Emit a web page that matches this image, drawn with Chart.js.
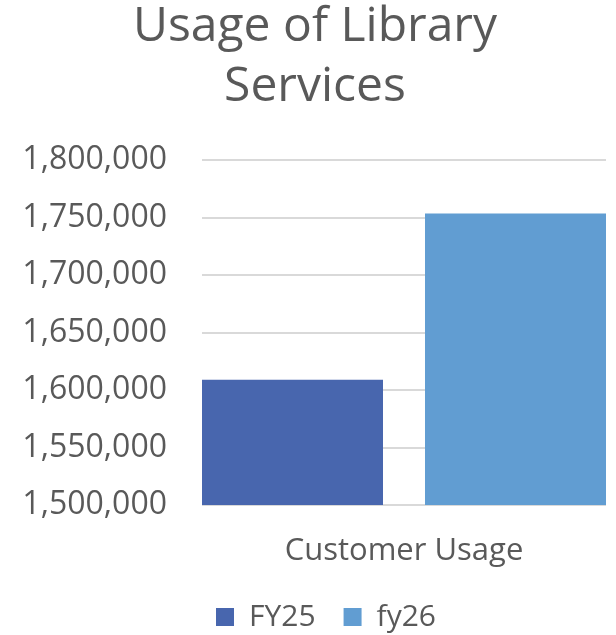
<!DOCTYPE html>
<html>
<head>
<meta charset="utf-8">
<script src="https://cdn.jsdelivr.net/npm/chart.js@4/dist/chart.umd.min.js"></script>
<style>
    html, body { margin: 0; padding: 0; background: #fff; }
    #wrap { width: 616px; height: 635px; }
</style>
</head>
<body>
<div id="wrap"><canvas id="usageChart"></canvas></div>
<script>
const categories = ['Customer Usage'];
const seriesNames = ['FY25', 'fy26'];
const fy25Values = [1609000];
const fy26Values = [1753500];
const yTicks = [1500000, 1550000, 1600000, 1650000, 1700000, 1750000, 1800000];

const textColor = '#595959';
const fontFamily = '"Open Sans", sans-serif';

// nudge the legend a little to the right, like the original
const legendShift = {
    id: 'legendShift',
    afterLayout(chart) {
        if (chart.legend) {
            chart.legend.left += 11;
            chart.legend.right += 11;
        }
    }
};

function initChart() {
    const ctx = document.getElementById('usageChart');
    new Chart(ctx, {
        type: 'bar',
        data: {
            labels: categories,
            datasets: [{
                label: seriesNames[0],
                data: fy25Values,
                backgroundColor: '#4866AE',
                barPercentage: 0.8117,
                categoryPercentage: 1.104
            }, {
                label: seriesNames[1],
                data: fy26Values,
                backgroundColor: '#619DD2',
                barPercentage: 0.8117,
                categoryPercentage: 1.104
            }]
        },
        options: {
            responsive: true,
            maintainAspectRatio: false,
            animation: false,
            layout: { padding: { left: 24, right: 10, top: -3, bottom: -7 } },
            plugins: {
                title: {
                    display: true,
                    text: ['Usage of Library', 'Services'],
                    color: textColor,
                    font: { family: fontFamily, size: 48, weight: 'normal', lineHeight: 1.25 },
                    padding: { top: 0, bottom: 43 }
                },
                legend: {
                    position: 'bottom',
                    labels: {
                        color: textColor,
                        font: { family: fontFamily, size: 30 },
                        boxWidth: 18,
                        boxHeight: 18,
                        padding: 28
                    }
                },
                tooltip: { enabled: false }
            },
            scales: {
                x: {
                    grid: { display: false },
                    border: { display: false },
                    ticks: {
                        color: textColor,
                        font: { family: fontFamily, size: 31 },
                        padding: 20
                    },
                    afterFit: axis => { axis.height = 69; }
                },
                y: {
                    min: 1500000,
                    max: 1800000,
                    afterBuildTicks: axis => { axis.ticks = yTicks.map(v => ({ value: v })); },
                    grid: { color: '#d9d9d9', lineWidth: 2, drawTicks: false },
                    border: { display: false },
                    ticks: {
                        color: textColor,
                        font: { family: fontFamily, size: 32 },
                        padding: 35,
                        callback: v => v.toLocaleString('en-US')
                    },
                    afterFit: axis => { axis.width = 178; }
                }
            }
        },
        plugins: [legendShift]
    });
}

document.addEventListener('DOMContentLoaded', initChart);
</script>
</body>
</html>
